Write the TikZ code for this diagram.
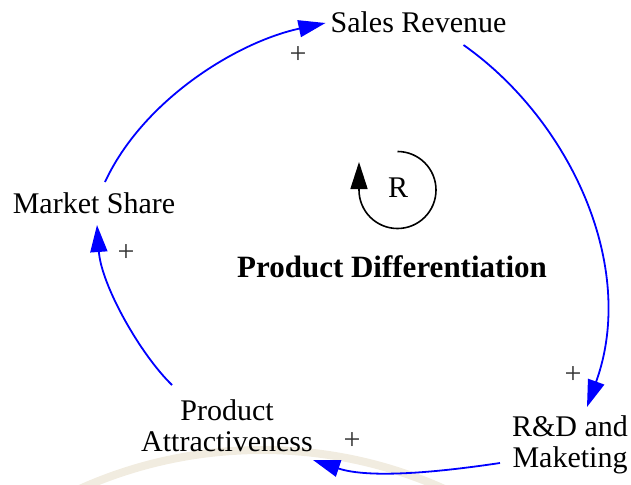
\documentclass[tikz,border=0pt]{standalone}
\usepackage{fontspec}
\setmainfont{Liberation Serif}
\usetikzlibrary{arrows.meta}
\definecolor{linkblue}{RGB}{0,0,255}
\definecolor{sandband}{RGB}{241,236,224}
\begin{document}
\begin{tikzpicture}[x=1pt,y=-1pt,
  every node/.style={font=\fontsize{30}{31}\selectfont, inner sep=0pt},
  var/.style={text height=21pt, text depth=6pt, anchor=base},
  var2/.style={align=center},
  pol/.style={text=black!80},
  link/.style={draw=linkblue, line width=1.8pt, -{Triangle[length=27pt,width=17pt]}},
  loopmark/.style={draw=black, line width=1.6pt, -{Triangle[length=27pt,width=17pt]}}]
\useasboundingbox (0,0) rectangle (631,484);

% faint sand-coloured band along the bottom edge
\begin{scope}
  \clip (0,0) rectangle (631,484);
  \draw[sandband, line width=8pt] (262,895) circle[radius=445];
\end{scope}

% variables
\node[var] (sr) at (418.5,33) {Sales Revenue};
\node[var] (ms) at (94,213) {Market Share};
\node[var2] (pa) at (227,427.5) {\rule{0pt}{22pt}Product\\Attractiveness\rule[-6pt]{0pt}{6pt}};
\node[var2] (rd) at (570,444.5) {\rule{0pt}{22pt}R\&D and\\Maketing\rule[-6pt]{0pt}{6pt}};

% loop identifier and name
\node (rl) at (398,188) {R};
\node[anchor=base, font=\fontsize{31}{31}\selectfont\bfseries] (title) at (392,277) {Product Differentiation};
\draw[loopmark] (397.5,151.5) arc[start angle=90, end angle=-180, radius=38.5pt] -- ++(0,-28);

% causal links
\draw[link] ([shift={(11,-31)}]ms.base) .. controls (143,100) and (237,42) .. ([shift={(-93,-10)}]sr.base);
\draw[link] ([shift={(45,12)}]sr.base) .. controls (569.5,119.6) and (638,266) .. ([shift={(17,-37.5)}]rd.center);
\draw[link] ([shift={(-70,18.5)}]rd.center) .. controls (440.6,471.9) and (370,479) .. ([shift={(86,32.5)}]pa.center);
\draw[link] ([shift={(-55,-42.5)}]pa.center) .. controls (140,354) and (101.2,284.9) .. ([shift={(3,12)}]ms.base);

% link polarities
\node[pol] (p1) at (298,55) {+};
\node[pol] (p2) at (573,375) {+};
\node[pol] (p3) at (352,441) {+};
\node[pol] (p4) at (126,253) {+};
\end{tikzpicture}
\end{document}
